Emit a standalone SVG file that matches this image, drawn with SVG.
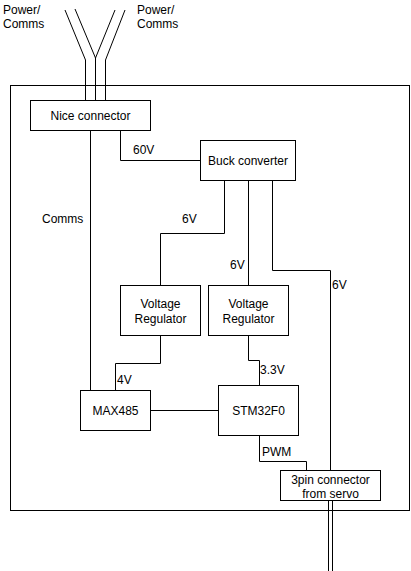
<svg xmlns="http://www.w3.org/2000/svg" width="411" height="571" viewBox="0 0 411 571">
<style>
.box{fill:#fff;stroke:#000;stroke-width:1}
.ln{fill:none;stroke:#000;stroke-width:1}
text{font-family:"Liberation Sans",Arial,sans-serif;font-size:12px;fill:#000}
.c{text-anchor:middle}
</style>
<rect width="411" height="571" fill="#fff"/>
<g id="enclosure"><rect class="box" x="10.5" y="85.5" width="399" height="425"/></g>
<g id="connectors">
<path class="ln" d="M65,10 L85.5,60 L85.5,100" stroke="#666"/>
<path class="ln" d="M75,9 L95.5,58 L115,10"/>
<path class="ln" d="M95.5,58 L95.5,100"/>
<path class="ln" d="M125,10 L105.5,60 L105.5,100"/>
<path class="ln" d="M90.5,130 L90.5,390"/>
<path class="ln" d="M120.5,130 L120.5,160.5 L200,160.5"/>
<path class="ln" d="M224.5,180 L224.5,233.5 L160.5,233.5 L160.5,285"/>
<path class="ln" d="M248.5,180 L248.5,285"/>
<path class="ln" d="M272.5,180 L272.5,270.5 L330.5,270.5 L330.5,470"/>
<path class="ln" d="M160.5,335 L160.5,363.5 L115.5,363.5 L115.5,390"/>
<path class="ln" d="M248.5,335 L248.5,360.5 L259.5,360.5 L259.5,385"/>
<path class="ln" d="M150,410.5 L218,410.5"/>
<path class="ln" d="M259.5,435 L259.5,461.5 L306.5,461.5 L306.5,470"/>
<path class="ln" d="M328.5,500 L328.5,571 M332.5,500 L332.5,571"/>
</g>
<g id="labels">
<text x="3" y="14">Power/</text>
<text x="3" y="28">Comms</text>
<text x="137" y="14">Power/</text>
<text x="137" y="28">Comms</text>
<text x="133" y="154">60V</text>
<text x="42" y="223">Comms</text>
<text x="182" y="223">6V</text>
<text x="230" y="269">6V</text>
<text x="332" y="289">6V</text>
<text x="117" y="384">4V</text>
<text x="260" y="374">3.3V</text>
<text x="262" y="456">PWM</text>
</g>
<g id="nice"><rect class="box" x="30.5" y="100.5" width="120" height="30"/><text class="c" x="90.5" y="119.5">Nice connector</text></g>
<g id="buck"><rect class="box" x="200.5" y="140.5" width="95" height="40"/><text class="c" x="248" y="164.5">Buck converter</text></g>
<g id="vr1"><rect class="box" x="120.5" y="285.5" width="80" height="50"/><text class="c" x="160.5" y="308">Voltage</text><text class="c" x="160.5" y="323">Regulator</text></g>
<g id="vr2"><rect class="box" x="208.5" y="285.5" width="80" height="50"/><text class="c" x="248.5" y="308">Voltage</text><text class="c" x="248.5" y="323">Regulator</text></g>
<g id="max485"><rect class="box" x="80.5" y="390.5" width="70" height="40"/><text class="c" x="115.5" y="414.5">MAX485</text></g>
<g id="stm32"><rect class="box" x="218.5" y="385.5" width="80" height="50"/><text class="c" x="258.5" y="414.5">STM32F0</text></g>
<g id="pin3"><rect class="box" x="280.5" y="470.5" width="100" height="30"/><text class="c" x="330.5" y="484">3pin connector</text><text class="c" x="330.5" y="498">from servo</text></g>
</svg>
